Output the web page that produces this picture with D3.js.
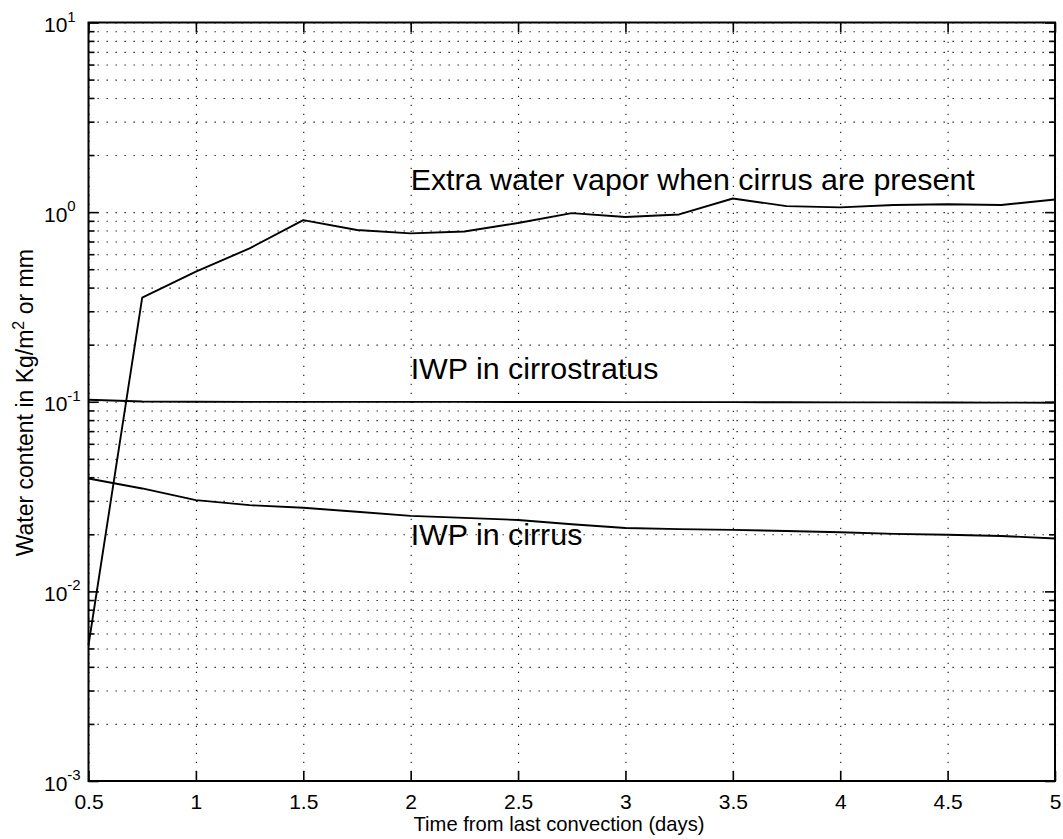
<!DOCTYPE html>
<html>
<head>
<meta charset="utf-8">
<script src="https://cdn.jsdelivr.net/npm/d3@7/dist/d3.min.js"></script>
<style>
  html, body { margin: 0; padding: 0; background: #fff; }
  svg { display: block; }
  text { font-family: "Liberation Sans", Arial, Helvetica, sans-serif; fill: #000; }
</style>
</head>
<body>
<svg id="chart" width="1063" height="839"></svg>
<script>
// ---- data ----
const days = [0.5, 0.75, 1, 1.25, 1.5, 1.75, 2, 2.25, 2.5, 2.75, 3, 3.25, 3.5, 3.75, 4, 4.25, 4.5, 4.75, 5];
const extraVapor = [0.0052, 0.354, 0.485, 0.644, 0.908, 0.805, 0.773, 0.79, 0.876, 0.988, 0.942, 0.972, 1.18, 1.075, 1.06, 1.09, 1.1, 1.09, 1.165];
const iwpCirrostratus = [0.1025, 0.1003, 0.1, 0.0999, 0.0999, 0.0998, 0.0998, 0.0998, 0.0997, 0.0997, 0.0996, 0.0996, 0.0995, 0.0994, 0.0993, 0.0992, 0.0991, 0.099, 0.0988];
const iwpCirrus = [0.0394, 0.0349, 0.0303, 0.0285, 0.0276, 0.0263, 0.025, 0.0244, 0.0238, 0.0226, 0.0216, 0.0213, 0.0211, 0.0208, 0.0205, 0.0201, 0.0199, 0.0196, 0.019];
const seriesLabels = ["Extra water vapor when cirrus are present", "IWP in cirrostratus", "IWP in cirrus"];
const labelX = [2.0, 2.0, 2.0];
const labelY = [1.31, 0.132, 0.0175];
const xTicks = [0.5, 1, 1.5, 2, 2.5, 3, 3.5, 4, 4.5, 5];
const xTickLabels = ["0.5", "1", "1.5", "2", "2.5", "3", "3.5", "4", "4.5", "5"];
const yMajor = [0.001, 0.01, 0.1, 1, 10];
const yExponents = ["-3", "-2", "-1", "0", "1"];
const xTitle = "Time from last convection (days)";
const yTitle = ["Water content in Kg/m", "2", " or mm"];

// ---- layout ----
const svg = d3.select("#chart");
const m = { left: 88.5, top: 22.5, right: 1063 - 1055, bottom: 839 - 781 };
const W = 1063 - m.left - m.right;
const H = 839 - m.top - m.bottom;

const x = d3.scaleLinear().domain([0.5, 5]).range([0, W]);
const y = d3.scaleLog().domain([0.001, 10]).range([H, 0]);

const yMinor = [];
for (let k = 0; k < yMajor.length - 1; k++) {
  for (let j = 2; j <= 9; j++) yMinor.push(yMajor[k] * j);
}

const g = svg.append("g").attr("transform", `translate(${m.left},${m.top})`);

// ---- grid ----
const dash = "1.3,7.7";
g.append("g").attr("class", "grid")
  .call(d3.axisLeft(y).tickValues(yMajor.concat(yMinor)).tickSize(-W).tickFormat(""));
g.append("g").attr("class", "grid")
  .attr("transform", `translate(0,${H})`)
  .call(d3.axisBottom(x).tickValues(xTicks).tickSize(-H).tickFormat(""));
g.selectAll(".grid .domain").remove();
g.selectAll(".grid line").attr("stroke", "#111").attr("stroke-width", 1.1).attr("stroke-dasharray", dash);

// ---- ticks (inward, all four sides) ----
function styleAxis(sel) {
  sel.select(".domain").remove();
  sel.selectAll("line").attr("stroke", "#000").attr("stroke-width", 1.6);
}
g.append("g").call(d3.axisLeft(y).tickValues(yMajor).tickSize(-10).tickFormat("")).call(styleAxis);
g.append("g").call(d3.axisLeft(y).tickValues(yMinor).tickSize(-6).tickFormat("")).call(styleAxis);
g.append("g").attr("transform", `translate(${W},0)`)
  .call(d3.axisRight(y).tickValues(yMajor).tickSize(-10).tickFormat("")).call(styleAxis);
g.append("g").attr("transform", `translate(${W},0)`)
  .call(d3.axisRight(y).tickValues(yMinor).tickSize(-6).tickFormat("")).call(styleAxis);
const xAxisG = g.append("g").attr("transform", `translate(0,${H})`)
  .call(d3.axisBottom(x).tickValues(xTicks).tickSize(-10).tickPadding(20)
    .tickFormat((d, i) => xTickLabels[i]));
xAxisG.call(styleAxis);
xAxisG.selectAll("text").attr("font-size", 21).attr("font-family", null)
  .attr("y", 0).attr("dy", 0).attr("transform", "translate(0,27.5)");
g.append("g").call(d3.axisTop(x).tickValues(xTicks).tickSize(-10).tickFormat("")).call(styleAxis);

// y tick labels (10^k)
const yl = g.append("g").selectAll("text").data(yMajor).join("text")
  .attr("x", 44 - m.left)
  .attr("y", d => y(d) + 9.5)
  .attr("font-size", 21);
yl.append("tspan").text("10");
yl.append("tspan").attr("dy", -10.5).attr("font-size", 15).text((d, i) => yExponents[i]);

// ---- box ----
g.append("rect").attr("width", W).attr("height", H)
  .attr("fill", "none").attr("stroke", "#000").attr("stroke-width", 2);

// ---- lines ----
const line = d3.line().x((d, i) => x(days[i])).y(d => y(d));
[extraVapor, iwpCirrostratus, iwpCirrus].forEach(s => {
  g.append("path").datum(s).attr("d", line)
    .attr("fill", "none").attr("stroke", "#000").attr("stroke-width", 1.9)
    .attr("stroke-linejoin", "round");
});

// ---- annotations ----
g.selectAll(".lbl").data(seriesLabels).join("text")
  .attr("class", "lbl")
  .attr("x", (d, i) => x(labelX[i]))
  .attr("y", (d, i) => y(labelY[i]))
  .attr("font-size", 30.4)
  .text(d => d);

// ---- titles ----
svg.append("text").attr("x", 559).attr("y", 831).attr("text-anchor", "middle")
  .attr("font-size", 20.2).text(xTitle);
const yt = svg.append("text")
  .attr("transform", `translate(33,${m.top + H / 2 + 1}) rotate(-90)`)
  .attr("text-anchor", "middle").attr("font-size", 23);
yt.append("tspan").text(yTitle[0]);
yt.append("tspan").attr("dy", -9).attr("font-size", 16).text(yTitle[1]);
yt.append("tspan").attr("dy", 9).text(yTitle[2]);
</script>
</body>
</html>
